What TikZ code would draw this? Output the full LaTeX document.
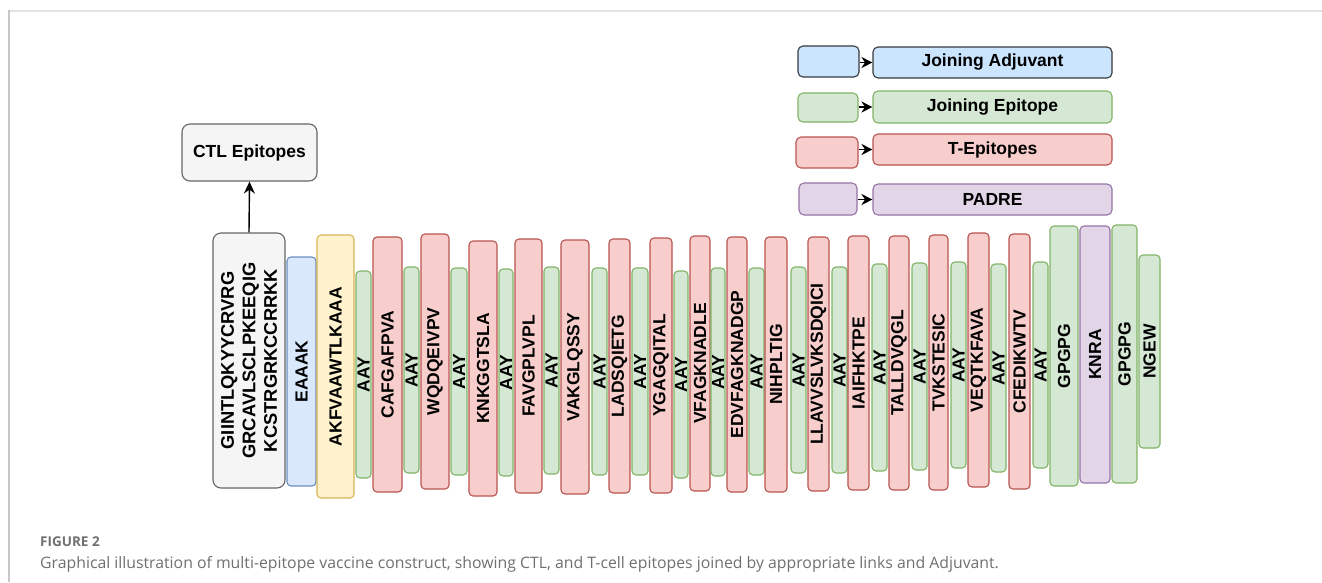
\documentclass[tikz,border=0pt]{standalone}
\usepackage{fontspec}
\setmainfont{Liberation Sans}
\newfontfamily\capfont{Open Sans}
\usetikzlibrary{arrows.meta}
\definecolor{greyfill}{HTML}{F5F5F5}
\definecolor{greyline}{HTML}{666666}
\definecolor{bluefill}{HTML}{DAE8FC}
\definecolor{blueline}{HTML}{6C8EBF}
\definecolor{legbluefill}{HTML}{CCE5FF}
\definecolor{legblueline}{HTML}{36393D}
\definecolor{yelfill}{HTML}{FFF2CC}
\definecolor{yelline}{HTML}{D6B656}
\definecolor{grnfill}{HTML}{D5E8D4}
\definecolor{grnline}{HTML}{82B366}
\definecolor{redfill}{HTML}{F8CECC}
\definecolor{redline}{HTML}{B85450}
\definecolor{purfill}{HTML}{E1D5E7}
\definecolor{purline}{HTML}{9673A6}
\definecolor{capgrey}{HTML}{707070}
\definecolor{topframe}{HTML}{E2E2E2}
\definecolor{leftframe}{HTML}{C8C8C8}
\newcommand\segbox[7]{\node[#2, rotate=90, minimum width={#6pt-#5pt}, minimum height={#4pt-#3pt}] (#1) at ({(#3+#4)/2},{(#5+#6)/2}) {#7};}
\newcommand\flatbox[7]{\node[#2, minimum width={#4pt-#3pt}, minimum height={#6pt-#5pt}] (#1) at ({(#3+#4)/2},{(#5+#6)/2}) {#7};}
\tikzset{
  seg/.style={draw, line width=1.1pt, rounded corners=4pt, inner sep=0pt, text=black,
    font=\bfseries\fontsize{17.5}{21}\selectfont},
  greyseg/.style={seg, fill=greyfill, draw=greyline, rounded corners=8pt, align=center,
    font=\bfseries\fontsize{18.3}{21.5}\selectfont},
  blueseg/.style={seg, fill=bluefill, draw=blueline},
  yelseg/.style={seg, fill=yelfill, draw=yelline},
  grnseg/.style={seg, fill=grnfill, draw=grnline},
  redseg/.style={seg, fill=redfill, draw=redline},
  purseg/.style={seg, fill=purfill, draw=purline},
  legblue/.style={seg, fill=legbluefill, draw=legblueline, rounded corners=5pt},
  leggrn/.style={seg, fill=grnfill, draw=grnline, rounded corners=5pt},
  legred/.style={seg, fill=redfill, draw=redline, rounded corners=5pt},
  legpur/.style={seg, fill=purfill, draw=purline, rounded corners=5pt},
  ctlbox/.style={seg, fill=greyfill, draw=greyline, rounded corners=8pt},
  legarrow/.style={line width=1.5pt, -{Stealth[length=11pt,width=11pt]}},
  ctlarrow/.style={line width=1.4pt, -{Stealth[length=12pt,width=11pt]}},
}
\begin{document}
\begin{tikzpicture}[x=1pt,y=-1pt]
\useasboundingbox[fill=white] (0,0) rectangle (1322,582);
% frame
\draw[topframe, line width=1.6pt] (9,10.8) -- (1322,10.8);
\draw[leftframe, line width=1.1pt] (9,10) -- (9,582);
% CTL
\flatbox{ctl}{ctlbox}{182}{317}{124}{181}{CTL Epitopes}
\segbox{s0}{greyseg}{213}{285}{233}{488}{GIINTLQKYYCRVRG\\GRCAVLSCLPKEEQIG\\KCSTRGRKCCRRKK}
\draw[ctlarrow] (s0.east) -- (ctl.south);
\segbox{s1}{blueseg}{287}{316}{257}{486}{EAAAK}
\segbox{s2}{yelseg}{317}{354}{235}{498}{AKFVAAWTLKAAA}
\segbox{s3}{grnseg}{356}{371}{271}{478}{AAY}
\segbox{s4}{redseg}{373}{402}{237}{492}{CAFGAFPVA}
\segbox{s5}{grnseg}{404}{419}{267}{473}{AAY}
\segbox{s6}{redseg}{421}{449}{234}{489}{WQDQEIVPV}
\segbox{s7}{grnseg}{451}{467}{268}{475}{AAY}
\segbox{s8}{redseg}{469}{497}{241}{496}{KNKGGTSLA}
\segbox{s9}{grnseg}{499}{513}{269}{476}{AAY}
\segbox{s10}{redseg}{515}{542}{239}{493}{FAVGPLVPL}
\segbox{s11}{grnseg}{544}{559}{267}{474}{AAY}
\segbox{s12}{redseg}{561}{589}{240}{494}{VAKGLQSSY}
\segbox{s13}{grnseg}{592}{607}{268}{475}{AAY}
\segbox{s14}{redseg}{609}{630}{239}{493}{LADSQIETG}
\segbox{s15}{grnseg}{632}{648}{268}{475}{AAY}
\segbox{s16}{redseg}{650}{672}{238}{493}{YGAGQITAL}
\segbox{s17}{grnseg}{674}{688}{271}{478}{AAY}
\segbox{s18}{redseg}{690}{710}{236}{491}{VFAGKNADLE}
\segbox{s19}{grnseg}{711}{725}{268}{476}{AAY}
\segbox{s20}{redseg}{727}{747}{237}{492}{EDVFAGKNADGP}
\segbox{s21}{grnseg}{749}{764}{268}{475}{AAY}
\segbox{s22}{redseg}{765}{787}{237}{492}{NIHPLTIG}
\segbox{s23}{grnseg}{791}{806}{267}{473}{AAY}
\segbox{s24}{redseg}{808}{829}{237}{491}{LLAVVSLVKSDQICI}
\segbox{s25}{grnseg}{832}{847}{267}{473}{AAY}
\segbox{s26}{redseg}{848}{869}{236}{490}{IAIFHKTPE}
\segbox{s27}{grnseg}{872}{887}{264}{471}{AAY}
\segbox{s28}{redseg}{889}{909}{236}{490}{TALLDVQGL}
\segbox{s29}{grnseg}{912}{927}{263}{470}{AAY}
\segbox{s30}{redseg}{929}{948}{235}{490}{TVKSTESIC}
\segbox{s31}{grnseg}{951}{966}{262}{468}{AAY}
\segbox{s32}{redseg}{968}{989}{233}{487}{VEQTKFAVA}
\segbox{s33}{grnseg}{991}{1006}{264}{472}{AAY}
\segbox{s34}{redseg}{1009}{1030}{234}{489}{CFEDIKWTV}
\segbox{s35}{grnseg}{1033}{1048}{262}{468}{AAY}
\segbox{s36}{grnseg}{1050}{1078}{226}{486}{GPGPG}
\segbox{s37}{purseg}{1080}{1110}{226}{483}{KNRA}
\segbox{s38}{grnseg}{1112}{1137}{225}{483}{GPGPG}
\segbox{s39}{grnseg}{1139}{1160}{255}{448}{NGEW}
% legend
\flatbox{la}{legblue}{798}{859}{46}{77}{}
\flatbox{lA}{legblue}{873}{1112}{47}{78}{Joining Adjuvant}
\flatbox{lb}{leggrn}{798}{858}{93}{122}{}
\flatbox{lB}{leggrn}{873}{1112}{91}{123}{Joining Epitope}
\flatbox{lc}{legred}{796}{858}{137}{168}{}
\flatbox{lC}{legred}{873}{1112}{134}{165}{T-Epitopes}
\flatbox{ld}{legpur}{799}{857}{183}{215}{}
\flatbox{lD}{legpur}{873}{1112}{184}{215}{PADRE}
\draw[legarrow] (la.east |- lA.west) -- (lA.west);
\draw[legarrow] (lb.east |- lB.west) -- (lB.west);
\draw[legarrow] (lc.east |- lC.west) -- (lC.west);
\draw[legarrow] (ld.east |- lD.west) -- (lD.west);
% caption
\node[anchor=base west, inner sep=0pt, text=capgrey, font=\capfont\bfseries\fontsize{13.5}{16}\selectfont] (fig) at (40,546) {FIGURE 2};
\node[anchor=base west, inner sep=0pt, text=capgrey, font=\capfont\fontsize{15.8}{19}\selectfont] (cap) at (40,568) {Graphical illustration of multi-epitope vaccine construct, showing CTL, and T-cell epitopes joined by appropriate links and Adjuvant.};
\end{tikzpicture}
\end{document}
